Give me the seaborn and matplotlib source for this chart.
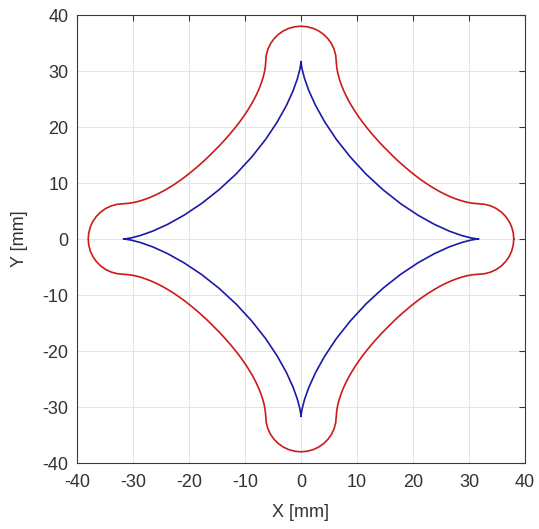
import numpy as np
import pandas as pd
import matplotlib
matplotlib.use("Agg")
import matplotlib.pyplot as plt
import seaborn as sns

# first quadrant of each closed curve
# (from the point on +X round to the point on +Y); the other
# quadrants are the mirror images
inner_x = [31.70, 31.35, 30.32, 28.67, 26.47, 23.83, 20.89, 17.78, 14.64, 11.60,
           8.80, 6.32, 4.25, 2.61, 1.41, 0.63, 0.20, 0.03, 0.00]
inner_y = [0.00, 0.03, 0.20, 0.63, 1.41, 2.61, 4.25, 6.32, 8.80, 11.60,
           14.64, 17.78, 20.89, 23.83, 26.47, 28.67, 30.32, 31.35, 31.70]

outer_x = [38.00, 37.90, 37.62, 37.16, 36.53, 35.75, 34.85, 33.86, 32.79, 31.70,
           30.70, 29.70, 28.70, 27.70, 26.70, 25.70, 24.70, 23.70, 22.70, 21.70,
           20.70, 19.70, 18.70, 17.70, 16.70, 15.61,
           14.53, 13.61, 12.73, 11.90, 11.11, 10.38, 9.70, 9.08, 8.50, 7.99,
           7.53, 7.14, 6.81, 6.55, 6.38, 6.30, 6.20, 5.92, 5.46, 4.83,
           4.05, 3.15, 2.16, 1.09, 0.00]
outer_y = [0.00, 1.09, 2.16, 3.15, 4.05, 4.83, 5.46, 5.92, 6.20, 6.30,
           6.38, 6.55, 6.81, 7.14, 7.53, 7.99, 8.50, 9.08, 9.70, 10.38,
           11.11, 11.90, 12.73, 13.61, 14.53, 15.61,
           16.70, 17.70, 18.70, 19.70, 20.70, 21.70, 22.70, 23.70, 24.70, 25.70,
           26.70, 27.70, 28.70, 29.70, 30.70, 31.70, 32.79, 33.86, 34.85, 35.75,
           36.53, 37.16, 37.62, 37.90, 38.00]

ticks = [-40, -30, -20, -10, 0, 10, 20, 30, 40]


def close_curve(qx, qy):
    qx = np.array(qx)
    qy = np.array(qy)
    xs = np.concatenate([qx, -qx[::-1], -qx, qx[::-1]])
    ys = np.concatenate([qy, qy[::-1], -qy, -qy[::-1]])
    return pd.DataFrame({"X": xs, "Y": ys})


inner = close_curve(inner_x, inner_y)
outer = close_curve(outer_x, outer_y)

sns.set_style("white")
plt.rcParams["font.family"] = ["Liberation Sans", "DejaVu Sans"]
plt.rcParams["axes.unicode_minus"] = False

fig = plt.figure(figsize=(5.39, 5.29), dpi=100)
ax = fig.add_axes([77 / 539, 66 / 529, 448 / 539, 448 / 529])

sns.lineplot(data=outer, x="X", y="Y", sort=False, estimator=None,
             color="#cc1a1a", linewidth=1.2, ax=ax)
sns.lineplot(data=inner, x="X", y="Y", sort=False, estimator=None,
             color="#1a1aa8", linewidth=1.2, ax=ax)

ax.set_xlim(-40, 40)
ax.set_ylim(-40, 40)
ax.set_xticks(ticks)
ax.set_yticks(ticks)
ax.grid(True, color="#e4e4e4", linewidth=0.7)
ax.set_axisbelow(True)

for side in ax.spines.values():
    side.set_visible(True)
    side.set_color("#3a3a3a")
    side.set_linewidth(0.8)

ax.tick_params(direction="in", length=4, width=0.8, color="#3a3a3a",
               top=True, right=True, labelsize=13, labelcolor="#333333")
ax.tick_params(axis="x", pad=8)
ax.tick_params(axis="y", pad=6)

ax.set_xlabel("X [mm]", fontsize=13, color="#333333", va="top")
ax.set_ylabel("Y [mm]", fontsize=13, color="#333333")
ax.xaxis.set_label_coords(0.5, -0.092)
ax.yaxis.set_label_coords(-0.11, 0.5)

fig.savefig("out.png", dpi=100)
